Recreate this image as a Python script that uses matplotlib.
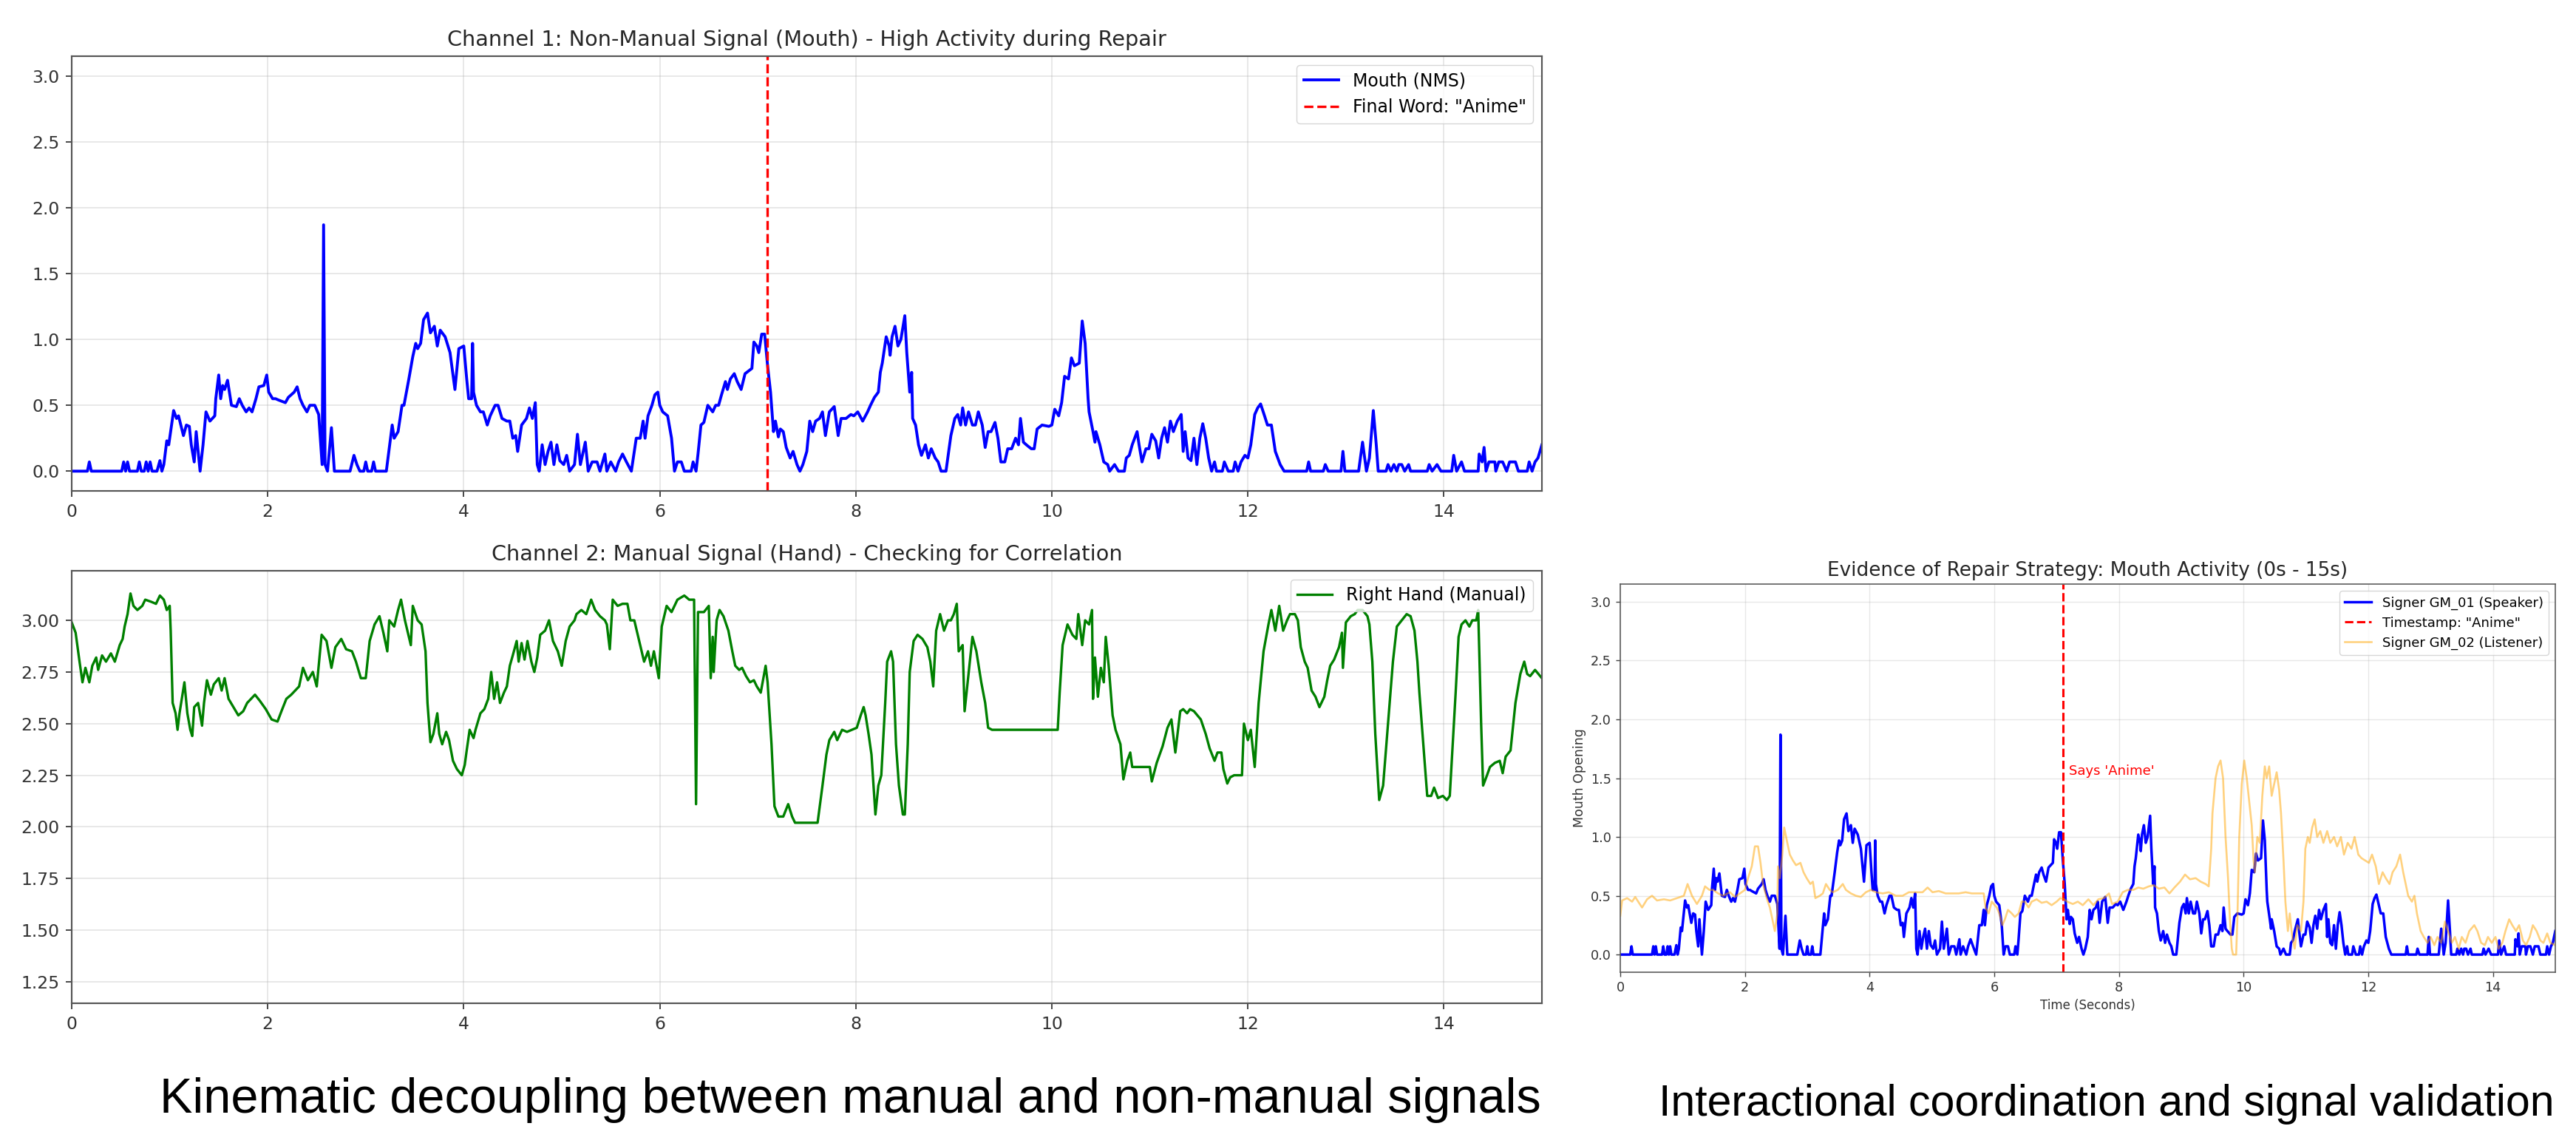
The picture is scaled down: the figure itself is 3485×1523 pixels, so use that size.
import matplotlib
matplotlib.use("Agg")
import matplotlib.pyplot as plt

# ---- values (time in seconds) ----
mouth_t = [0.0, 0.16, 0.18, 0.2, 0.51, 0.53, 0.55, 0.57, 0.59, 0.67, 0.69, 0.71, 0.74, 0.76, 0.78, 0.8, 0.82,
           0.87, 0.9, 0.92, 0.94, 0.97, 0.99, 1.04, 1.07, 1.09, 1.14, 1.17, 1.2, 1.22, 1.25, 1.27, 1.31, 1.34,
           1.37, 1.41, 1.46, 1.47, 1.5, 1.52, 1.54, 1.56, 1.59, 1.63, 1.68, 1.71, 1.74, 1.78, 1.81, 1.84, 1.88,
           1.91, 1.96, 1.99, 2.01, 2.05, 2.08, 2.11, 2.18, 2.21, 2.27, 2.3, 2.33, 2.36, 2.4, 2.43, 2.48, 2.52,
           2.555, 2.57, 2.585, 2.61, 2.65, 2.68, 2.84, 2.88, 2.91, 2.94, 2.98, 3.0, 3.02, 3.06, 3.08, 3.1, 3.21,
           3.27, 3.29, 3.33, 3.37, 3.39, 3.44, 3.48, 3.51, 3.53, 3.56, 3.59, 3.63, 3.66, 3.7, 3.73, 3.76, 3.81,
           3.86, 3.91, 3.95, 4.0, 4.03, 4.05, 4.08, 4.09, 4.1, 4.13, 4.17, 4.2, 4.24, 4.27, 4.32, 4.35, 4.39,
           4.44, 4.47, 4.5, 4.53, 4.55, 4.59, 4.64, 4.67, 4.7, 4.73, 4.75, 4.77, 4.8, 4.83, 4.86, 4.89, 4.92,
           4.95, 4.98, 5.02, 5.05, 5.08, 5.13, 5.16, 5.19, 5.24, 5.27, 5.31, 5.36, 5.39, 5.44, 5.46, 5.5, 5.55,
           5.58, 5.62, 5.66, 5.71, 5.76, 5.8, 5.83, 5.85, 5.88, 5.92, 5.95, 5.98, 6.0, 6.03, 6.08, 6.12, 6.15,
           6.18, 6.22, 6.25, 6.32, 6.34, 6.37, 6.39, 6.42, 6.45, 6.49, 6.54, 6.57, 6.6, 6.63, 6.67, 6.69, 6.72,
           6.76, 6.79, 6.83, 6.87, 6.94, 6.96, 6.99, 7.01, 7.04, 7.07, 7.1, 7.13, 7.16, 7.18, 7.21, 7.23, 7.26,
           7.29, 7.33, 7.36, 7.4, 7.43, 7.46, 7.5, 7.53, 7.56, 7.59, 7.63, 7.66, 7.69, 7.73, 7.78, 7.82, 7.85,
           7.9, 7.95, 7.98, 8.02, 8.07, 8.12, 8.15, 8.19, 8.23, 8.25, 8.27, 8.31, 8.34, 8.35, 8.37, 8.4, 8.43,
           8.46, 8.5, 8.52, 8.55, 8.57, 8.58, 8.61, 8.64, 8.67, 8.71, 8.74, 8.77, 8.81, 8.84, 8.87, 8.92, 8.97,
           9.01, 9.04, 9.07, 9.09, 9.12, 9.15, 9.19, 9.22, 9.25, 9.29, 9.32, 9.35, 9.38, 9.42, 9.45, 9.48, 9.52,
           9.55, 9.59, 9.63, 9.66, 9.68, 9.71, 9.74, 9.79, 9.82, 9.85, 9.9, 9.97, 10.0, 10.03, 10.07, 10.1,
           10.13, 10.17, 10.2, 10.23, 10.28, 10.31, 10.34, 10.37, 10.38, 10.42, 10.44, 10.45, 10.49, 10.53,
           10.57, 10.59, 10.64, 10.68, 10.74, 10.76, 10.79, 10.82, 10.87, 10.89, 10.92, 10.96, 10.99, 11.02,
           11.06, 11.09, 11.12, 11.15, 11.18, 11.21, 11.24, 11.28, 11.32, 11.34, 11.36, 11.39, 11.42, 11.45,
           11.48, 11.51, 11.54, 11.57, 11.6, 11.63, 11.66, 11.68, 11.74, 11.76, 11.8, 11.85, 11.87, 11.9,
           11.93, 11.97, 12.0, 12.03, 12.07, 12.1, 12.13, 12.17, 12.2, 12.24, 12.28, 12.33, 12.37, 12.6, 12.62,
           12.64, 12.77, 12.79, 12.82, 12.95, 12.97, 12.99, 13.13, 13.17, 13.21, 13.24, 13.28, 13.31, 13.33,
           13.41, 13.43, 13.46, 13.49, 13.52, 13.54, 13.57, 13.6, 13.64, 13.66, 13.83, 13.85, 13.88, 13.93,
           13.97, 14.08, 14.1, 14.13, 14.18, 14.21, 14.35, 14.36, 14.39, 14.41, 14.43, 14.46, 14.52, 14.53,
           14.56, 14.6, 14.64, 14.67, 14.73, 14.76, 14.85, 14.87, 14.9, 14.93, 14.96, 15.0]
mouth_v = [0.0, 0.0, 0.07, 0.0, 0.0, 0.07, 0.0, 0.07, 0.0, 0.0, 0.07, 0.0, 0.0, 0.07, 0.0, 0.07, 0.0,
           0.0, 0.08, 0.0, 0.05, 0.23, 0.2, 0.46, 0.4, 0.42, 0.27, 0.35, 0.34, 0.2, 0.07, 0.3, 0.0, 0.2,
           0.45, 0.38, 0.42, 0.55, 0.73, 0.55, 0.65, 0.62, 0.69, 0.5, 0.49, 0.55, 0.5, 0.45, 0.48, 0.45, 0.55,
           0.64, 0.65, 0.73, 0.6, 0.55, 0.55, 0.54, 0.52, 0.56, 0.6, 0.64, 0.55, 0.5, 0.45, 0.5, 0.5, 0.43,
           0.05, 1.87, 0.05, 0.0, 0.33, 0.0, 0.0, 0.12, 0.05, 0.0, 0.0, 0.07, 0.0, 0.0, 0.07, 0.0, 0.0,
           0.35, 0.25, 0.3, 0.5, 0.5, 0.7, 0.87, 0.97, 0.93, 0.97, 1.15, 1.2, 1.05, 1.1, 0.95, 1.07, 1.02,
           0.9, 0.62, 0.93, 0.95, 0.7, 0.55, 0.55, 0.97, 0.6, 0.5, 0.45, 0.45, 0.35, 0.42, 0.5, 0.5, 0.4,
           0.38, 0.38, 0.25, 0.27, 0.15, 0.35, 0.4, 0.48, 0.4, 0.52, 0.05, 0.0, 0.2, 0.05, 0.15, 0.22, 0.05,
           0.2, 0.08, 0.05, 0.12, 0.0, 0.05, 0.28, 0.05, 0.22, 0.0, 0.07, 0.07, 0.0, 0.13, 0.0, 0.07, 0.0,
           0.07, 0.13, 0.07, 0.0, 0.25, 0.25, 0.38, 0.25, 0.42, 0.5, 0.58, 0.6, 0.5, 0.45, 0.42, 0.25, 0.0,
           0.07, 0.07, 0.0, 0.0, 0.07, 0.0, 0.13, 0.35, 0.37, 0.5, 0.45, 0.5, 0.5, 0.58, 0.68, 0.62, 0.7,
           0.74, 0.68, 0.62, 0.74, 0.78, 0.98, 0.95, 0.9, 1.04, 1.04, 0.8, 0.6, 0.3, 0.38, 0.26, 0.32, 0.3,
           0.18, 0.1, 0.15, 0.05, 0.0, 0.05, 0.15, 0.38, 0.3, 0.38, 0.4, 0.45, 0.27, 0.45, 0.49, 0.27, 0.4,
           0.4, 0.43, 0.42, 0.45, 0.38, 0.45, 0.5, 0.56, 0.6, 0.75, 0.82, 1.02, 0.95, 0.88, 1.02, 1.1, 0.95,
           1.0, 1.18, 0.9, 0.6, 0.75, 0.4, 0.35, 0.2, 0.12, 0.2, 0.1, 0.17, 0.1, 0.07, 0.0, 0.0, 0.27,
           0.4, 0.43, 0.35, 0.48, 0.35, 0.45, 0.35, 0.35, 0.45, 0.35, 0.18, 0.3, 0.3, 0.37, 0.25, 0.07, 0.07,
           0.17, 0.17, 0.25, 0.2, 0.4, 0.22, 0.2, 0.17, 0.17, 0.32, 0.35, 0.34, 0.35, 0.47, 0.42, 0.52,
           0.72, 0.7, 0.86, 0.8, 0.82, 1.14, 0.97, 0.55, 0.45, 0.3, 0.22, 0.3, 0.2, 0.07,
           0.05, 0.0, 0.05, 0.0, 0.0, 0.1, 0.12, 0.2, 0.3, 0.2, 0.07, 0.17, 0.17, 0.28,
           0.23, 0.1, 0.25, 0.33, 0.22, 0.38, 0.3, 0.38, 0.43, 0.15, 0.3, 0.1, 0.08, 0.25,
           0.05, 0.25, 0.36, 0.25, 0.1, 0.0, 0.07, 0.0, 0.0, 0.07, 0.0, 0.0, 0.07, 0.0,
           0.07, 0.12, 0.1, 0.2, 0.43, 0.48, 0.51, 0.42, 0.35, 0.35, 0.15, 0.05, 0.0, 0.0, 0.07,
           0.0, 0.0, 0.05, 0.0, 0.0, 0.15, 0.0, 0.0, 0.22, 0.0, 0.1, 0.46, 0.2, 0.0,
           0.0, 0.05, 0.0, 0.05, 0.0, 0.05, 0.05, 0.0, 0.05, 0.0, 0.0, 0.05, 0.0, 0.05,
           0.0, 0.0, 0.12, 0.0, 0.07, 0.0, 0.0, 0.13, 0.07, 0.18, 0.0, 0.07, 0.07, 0.0,
           0.07, 0.07, 0.0, 0.07, 0.07, 0.0, 0.0, 0.07, 0.0, 0.07, 0.1, 0.2]

hand_t = [0.0, 0.04, 0.08, 0.11, 0.14, 0.18, 0.21, 0.25, 0.27, 0.31, 0.35, 0.4, 0.44, 0.49, 0.52, 0.54, 0.57,
          0.6, 0.63, 0.67, 0.72, 0.75, 0.81, 0.86, 0.9, 0.94, 0.97, 1.0, 1.01, 1.03, 1.06, 1.08, 1.1, 1.15,
          1.18, 1.21, 1.23, 1.25, 1.29, 1.33, 1.35, 1.38, 1.42, 1.45, 1.5, 1.53, 1.56, 1.6, 1.65, 1.7, 1.75,
          1.79, 1.87, 1.92, 1.98, 2.04, 2.1, 2.14, 2.19, 2.24, 2.28, 2.32, 2.36, 2.41, 2.46, 2.5, 2.55, 2.6,
          2.65, 2.69, 2.75, 2.8, 2.86, 2.9, 2.95, 3.0, 3.04, 3.09, 3.14, 3.18, 3.22, 3.24, 3.29, 3.33, 3.36,
          3.4, 3.44, 3.46, 3.48, 3.53, 3.57, 3.61, 3.63, 3.66, 3.69, 3.73, 3.75, 3.78, 3.82, 3.85, 3.89, 3.93,
          3.98, 4.01, 4.03, 4.06, 4.1, 4.12, 4.17, 4.21, 4.25, 4.28, 4.31, 4.34, 4.37, 4.41, 4.44, 4.47, 4.5,
          4.54, 4.56, 4.59, 4.62, 4.65, 4.69, 4.72, 4.75, 4.78, 4.83, 4.87, 4.91, 4.96, 5.0, 5.04, 5.08, 5.13,
          5.15, 5.2, 5.25, 5.3, 5.34, 5.39, 5.44, 5.46, 5.49, 5.52, 5.57, 5.62, 5.67, 5.7, 5.74, 5.79, 5.84,
          5.88, 5.91, 5.94, 5.99, 6.02, 6.07, 6.12, 6.18, 6.25, 6.3, 6.35, 6.37, 6.39, 6.45, 6.5, 6.52, 6.54,
          6.55, 6.58, 6.61, 6.65, 6.7, 6.74, 6.77, 6.81, 6.84, 6.88, 6.92, 6.96, 6.99, 7.03, 7.08, 7.1, 7.14,
          7.17, 7.21, 7.26, 7.31, 7.35, 7.38, 7.61, 7.66, 7.7, 7.73, 7.78, 7.81, 7.86, 7.91, 7.96, 8.01, 8.05,
          8.08, 8.1, 8.13, 8.16, 8.2, 8.23, 8.26, 8.3, 8.32, 8.36, 8.38, 8.41, 8.44, 8.48, 8.5, 8.53, 8.55,
          8.59, 8.63, 8.68, 8.73, 8.76, 8.79, 8.82, 8.86, 8.9, 8.94, 8.97, 9.0, 9.03, 9.05, 9.09, 9.11, 9.15,
          9.19, 9.23, 9.28, 9.32, 9.35, 9.39, 10.06, 10.08, 10.11, 10.16, 10.21, 10.25, 10.27, 10.31, 10.34,
          10.38, 10.41, 10.42, 10.44, 10.47, 10.5, 10.53, 10.55, 10.58, 10.62, 10.65, 10.7, 10.73, 10.77,
          10.8, 10.82, 11.0, 11.02, 11.07, 11.13, 11.18, 11.22, 11.26, 11.31, 11.34, 11.38, 11.41, 11.45,
          11.52, 11.57, 11.61, 11.66, 11.69, 11.73, 11.75, 11.79, 11.82, 11.86, 11.94, 11.96, 12.0, 12.03,
          12.07, 12.11, 12.16, 12.21, 12.24, 12.28, 12.32, 12.36, 12.4, 12.43, 12.48, 12.51, 12.54, 12.58,
          12.61, 12.65, 12.69, 12.73, 12.78, 12.81, 12.84, 12.88, 12.93, 12.96, 12.97, 13.0, 13.05, 13.09,
          13.12, 13.17, 13.22, 13.24, 13.27, 13.3, 13.34, 13.38, 13.43, 13.48, 13.52, 13.57, 13.62, 13.66,
          13.7, 13.73, 13.75, 13.79, 13.83, 13.87, 13.9, 13.94, 13.99, 14.03, 14.06, 14.09, 14.12, 14.15,
          14.18, 14.22, 14.26, 14.29, 14.33, 14.35, 14.38, 14.4, 14.44, 14.47, 14.52, 14.57, 14.6, 14.63,
          14.68, 14.73, 14.78, 14.82, 14.85, 14.88, 14.93, 15.0]
hand_v = [2.99, 2.94, 2.8, 2.7, 2.77, 2.7, 2.78, 2.82, 2.76, 2.83, 2.8, 2.84, 2.8, 2.88, 2.91, 2.97, 3.03,
          3.13, 3.07, 3.05, 3.07, 3.1, 3.09, 3.08, 3.12, 3.1, 3.05, 3.07, 2.95, 2.6, 2.55, 2.47, 2.55, 2.7,
          2.55, 2.47, 2.44, 2.58, 2.6, 2.49, 2.6, 2.71, 2.64, 2.69, 2.72, 2.66, 2.72, 2.62, 2.58, 2.54, 2.56,
          2.6, 2.64, 2.61, 2.57, 2.52, 2.51, 2.56, 2.62, 2.64, 2.66, 2.68, 2.77, 2.71, 2.75, 2.68, 2.93, 2.9,
          2.77, 2.87, 2.91, 2.86, 2.85, 2.8, 2.72, 2.72, 2.9, 2.98, 3.02, 2.94, 2.85, 3.0, 2.97, 3.05, 3.1,
          3.0, 2.92, 2.88, 3.07, 3.0, 2.98, 2.85, 2.6, 2.41, 2.45, 2.55, 2.45, 2.4, 2.46, 2.42, 2.32, 2.28,
          2.25, 2.3, 2.37, 2.47, 2.43, 2.47, 2.55, 2.57, 2.62, 2.75, 2.62, 2.7, 2.6, 2.65, 2.68, 2.78, 2.83,
          2.9, 2.8, 2.89, 2.81, 2.9, 2.8, 2.75, 2.82, 2.93, 2.95, 3.0, 2.9, 2.85, 2.78, 2.9, 2.97, 3.0,
          3.03, 3.05, 3.03, 3.1, 3.05, 3.02, 3.0, 2.98, 2.86, 3.1, 3.07, 3.08, 3.08, 3.0, 3.0, 2.9, 2.8,
          2.85, 2.78, 2.85, 2.72, 2.97, 3.07, 3.04, 3.1, 3.12, 3.1, 3.1, 2.11, 3.04, 3.04, 3.07, 2.72, 2.92,
          2.75, 3.0, 3.05, 3.02, 2.95, 2.85, 2.78, 2.76, 2.77, 2.73, 2.7, 2.71, 2.68, 2.65, 2.78, 2.7, 2.4,
          2.1, 2.05, 2.05, 2.11, 2.05, 2.02, 2.02, 2.2, 2.35, 2.42, 2.46, 2.42, 2.47, 2.46, 2.47, 2.48, 2.54,
          2.58, 2.54, 2.45, 2.35, 2.06, 2.2, 2.25, 2.6, 2.8, 2.85, 2.8, 2.4, 2.2, 2.06, 2.06, 2.4, 2.75,
          2.9, 2.93, 2.91, 2.87, 2.8, 2.68, 2.95, 3.03, 2.95, 3.0, 3.0, 3.03, 3.08, 2.85, 2.88, 2.56, 2.74,
          2.92, 2.85, 2.7, 2.6, 2.48, 2.47, 2.47, 2.65, 2.88, 2.98, 2.93, 2.91, 3.03, 2.88, 3.0,
          2.98, 3.05, 2.62, 2.82, 2.63, 2.77, 2.7, 2.92, 2.78, 2.54, 2.47, 2.4, 2.23, 2.32,
          2.36, 2.29, 2.29, 2.22, 2.31, 2.39, 2.48, 2.52, 2.36, 2.56, 2.57, 2.55, 2.57, 2.56,
          2.52, 2.45, 2.38, 2.32, 2.36, 2.36, 2.28, 2.21, 2.24, 2.25, 2.25, 2.5, 2.42, 2.47,
          2.29, 2.6, 2.85, 2.98, 3.05, 2.95, 3.07, 2.95, 3.0, 3.03, 3.03, 3.0, 2.87, 2.8,
          2.77, 2.66, 2.63, 2.58, 2.63, 2.71, 2.78, 2.81, 2.87, 2.94, 2.77, 2.99, 3.02, 3.03,
          3.05, 3.05, 3.02, 2.98, 2.8, 2.45, 2.13, 2.2, 2.5, 2.8, 2.97, 3.0, 3.03, 3.02,
          2.95, 2.8, 2.65, 2.4, 2.15, 2.15, 2.19, 2.14, 2.15, 2.13, 2.15, 2.4, 2.65, 2.92,
          2.98, 3.0, 2.97, 3.0, 3.0, 3.05, 2.5, 2.2, 2.25, 2.29, 2.31, 2.32, 2.26, 2.34,
          2.37, 2.6, 2.74, 2.8, 2.74, 2.73, 2.76, 2.72]

listener_t = [0.0, 0.03, 0.11, 0.19, 0.24, 0.3, 0.35, 0.43, 0.51, 0.59, 0.7, 0.8, 0.91, 1.02, 1.08, 1.15,
              1.23, 1.31, 1.36, 1.43, 1.49, 1.57, 1.65, 1.76, 1.84, 1.92, 2.0, 2.05, 2.11, 2.16, 2.21, 2.25,
              2.29, 2.35, 2.4, 2.44, 2.48, 2.52, 2.53, 2.56, 2.6, 2.63, 2.68, 2.72, 2.77, 2.82, 2.89, 2.94,
              2.99, 3.05, 3.09, 3.13, 3.2, 3.25, 3.3, 3.36, 3.41, 3.49, 3.57, 3.62, 3.7, 3.78, 3.86, 3.94,
              4.02, 4.1, 4.21, 4.31, 4.42, 4.53, 4.63, 4.74, 4.85, 4.93, 5.01, 5.11, 5.22, 5.32, 5.43, 5.54,
              5.64, 5.75, 5.83, 5.86, 5.91, 5.96, 6.04, 6.08, 6.13, 6.17, 6.22, 6.28, 6.33, 6.39, 6.44, 6.49,
              6.55, 6.6, 6.68, 6.76, 6.84, 6.92, 7.0, 7.06, 7.12, 7.17, 7.26, 7.34, 7.42, 7.51, 7.59, 7.67,
              7.76, 7.84, 7.89, 7.98, 8.06, 8.14, 8.23, 8.31, 8.39, 8.48, 8.56, 8.64, 8.73, 8.81, 8.89, 8.98,
              9.06, 9.14, 9.23, 9.31, 9.39, 9.44, 9.48, 9.5, 9.55, 9.59, 9.63, 9.67, 9.71, 9.75, 9.78, 9.81,
              9.83, 9.88, 9.9, 9.93, 9.97, 10.01, 10.05, 10.09, 10.13, 10.16, 10.18, 10.22, 10.26, 10.3, 10.34,
              10.37, 10.41, 10.45, 10.49, 10.53, 10.57, 10.6, 10.64, 10.67, 10.71, 10.74, 10.78, 10.82, 10.86,
              10.92, 10.96, 10.99, 11.03, 11.06, 11.1, 11.14, 11.18, 11.23, 11.28, 11.34, 11.39, 11.45, 11.5,
              11.56, 11.61, 11.67, 11.73, 11.78, 11.84, 11.89, 11.95, 12.01, 12.06, 12.12, 12.17, 12.23,
              12.28, 12.34, 12.39, 12.45, 12.51, 12.56, 12.6, 12.64, 12.7, 12.74, 12.78, 12.84, 12.89, 12.95,
              13.0, 13.06, 13.11, 13.17, 13.23, 13.28, 13.34, 13.39, 13.45, 13.5, 13.56, 13.62, 13.7, 13.75,
              13.81, 13.87, 13.92, 13.98, 14.04, 14.09, 14.15, 14.2, 14.26, 14.31, 14.37, 14.42, 14.48,
              14.53, 14.59, 14.64, 14.7, 14.76, 14.81, 14.87, 14.92, 15.0]
listener_v = [0.33, 0.46, 0.48, 0.45, 0.49, 0.44, 0.4, 0.47, 0.5, 0.46, 0.47, 0.46, 0.48, 0.5, 0.6, 0.5,
              0.43, 0.5, 0.58, 0.55, 0.55, 0.52, 0.5, 0.53, 0.49, 0.52, 0.55, 0.65, 0.75, 0.92, 0.92, 0.78,
              0.6, 0.48, 0.4, 0.3, 0.2, 0.35, 0.75, 0.65, 0.85, 1.08, 0.95, 0.85, 0.8, 0.76, 0.78, 0.7,
              0.65, 0.6, 0.62, 0.48, 0.5, 0.52, 0.6, 0.55, 0.53, 0.55, 0.6, 0.55, 0.52, 0.5, 0.49, 0.53,
              0.55, 0.53, 0.52, 0.53, 0.5, 0.5, 0.53, 0.53, 0.53, 0.57, 0.53, 0.54, 0.52, 0.52, 0.52, 0.53,
              0.52, 0.52, 0.52, 0.4, 0.35, 0.45, 0.4, 0.35, 0.25, 0.3, 0.38, 0.35, 0.32, 0.35, 0.45, 0.45,
              0.4, 0.45, 0.47, 0.44, 0.45, 0.42, 0.45, 0.48, 0.47, 0.45, 0.43, 0.45, 0.42, 0.47, 0.42, 0.47,
              0.48, 0.52, 0.43, 0.45, 0.53, 0.55, 0.55, 0.57, 0.56, 0.58, 0.59, 0.56, 0.57, 0.52, 0.57, 0.62,
              0.68, 0.64, 0.65, 0.62, 0.6, 0.58, 0.9, 1.2, 1.5, 1.6, 1.65, 1.5, 1.0, 0.65, 0.3, 0.05,
              0.0, 0.0, 0.3, 1.0, 1.45, 1.65, 1.5, 1.3, 1.1, 0.8, 0.7, 1.0, 0.95, 1.35, 1.6,
              1.5, 1.6, 1.35, 1.45, 1.55, 1.4, 1.2, 0.8, 0.45, 0.2, 0.35, 0.15, 0.05, 0.25,
              0.2, 0.45, 0.9, 1.0, 0.95, 1.08, 1.15, 1.0, 1.05, 0.95, 1.05, 0.95, 1.0, 0.92,
              1.0, 0.85, 0.95, 0.9, 1.0, 0.85, 0.82, 0.8, 0.78, 0.85, 0.75, 0.6, 0.7,
              0.65, 0.6, 0.7, 0.75, 0.85, 0.7, 0.6, 0.5, 0.45, 0.5, 0.35, 0.2, 0.15, 0.1,
              0.15, 0.08, 0.15, 0.1, 0.28, 0.2, 0.1, 0.15, 0.05, 0.15, 0.1, 0.2, 0.25, 0.2,
              0.1, 0.08, 0.15, 0.1, 0.15, 0.05, 0.1, 0.2, 0.3, 0.25, 0.2, 0.25, 0.12,
              0.08, 0.15, 0.25, 0.2, 0.12, 0.1, 0.18, 0.1, 0.08]

anime_time = 7.1
x_ticks = [0, 2, 4, 6, 8, 10, 12, 14]
mouth_ticks = [0.0, 0.5, 1.0, 1.5, 2.0, 2.5, 3.0]
hand_ticks = [1.25, 1.50, 1.75, 2.00, 2.25, 2.50, 2.75, 3.00]

W, H = 3485, 1523
fig = plt.figure(figsize=(W / 100, H / 100), dpi=100)


def box(x0, y0, x1, y1):
    # pixel box (top-left origin) -> figure fraction
    return [x0 / W, 1 - y1 / H, (x1 - x0) / W, (y1 - y0) / H]


def style(ax, k, fs):
    ax.set_xlim(0, 15)
    ax.set_xticks(x_ticks)
    ax.grid(True, alpha=0.3, linewidth=0.8 * k)
    ax.tick_params(labelsize=fs, length=3.5 * k, width=0.8 * k, pad=3.5 * k,
                   color='#444444', labelcolor='#333333')
    for s in ax.spines.values():
        s.set_linewidth(0.9 * k)
        s.set_color('#555555')


# left screenshot: two stacked channels
k1 = 1.72
ax1 = fig.add_axes(box(97, 76, 2086, 664))
ax1.plot(mouth_t, mouth_v, color='blue', lw=2.8, label='Mouth (NMS)')
ax1.axvline(anime_time, color='red', ls='--', lw=2.4, label='Final Word: "Anime"')
ax1.set_ylim(-0.15, 3.15)
ax1.set_yticks(mouth_ticks)
style(ax1, k1, 16.9)
ax1.set_title('Channel 1: Non-Manual Signal (Mouth) - High Activity during Repair',
              fontsize=20.7, pad=6 * k1, color='#262626')
ax1.legend(loc='upper right', fontsize=17)

ax2 = fig.add_axes(box(97, 772, 2086, 1357))
ax2.plot(hand_t, hand_v, color='green', lw=2.4, label='Right Hand (Manual)')
ax2.set_ylim(1.146, 3.24)
ax2.set_yticks(hand_ticks)
ax2.set_yticklabels([f'{v:.2f}' for v in hand_ticks])
style(ax2, k1, 16.9)
ax2.set_title('Channel 2: Manual Signal (Hand) - Checking for Correlation',
              fontsize=20.7, pad=6 * k1, color='#262626')
ax2.legend(loc='upper right', fontsize=17)

# right screenshot: speaker vs listener
k2 = 1.27
ax3 = fig.add_axes(box(2192, 790, 3457, 1315))
ax3.plot(mouth_t, mouth_v, color='blue', lw=2.5, label='Signer GM_01 (Speaker)')
ax3.axvline(anime_time, color='red', ls='--', lw=2.2, label='Timestamp: "Anime"')
ax3.text(anime_time + 0.1, 1.5, "Says 'Anime'", color='red', fontsize=13, va='bottom')
ax3.plot(listener_t, listener_v, color='orange', alpha=0.5, lw=1.9,
         label='Signer GM_02 (Listener)')
ax3.set_ylim(-0.15, 3.15)
ax3.set_yticks(mouth_ticks)
style(ax3, k2, 12.7)
ax3.set_title('Evidence of Repair Strategy: Mouth Activity (0s - 15s)',
              fontsize=18.9, pad=6 * k2, color='#262626')
ax3.set_xlabel('Time (Seconds)', fontsize=12, color='#333333')
ax3.set_ylabel('Mouth Opening', fontsize=12.5, color='#333333')
ax3.legend(loc='upper right', fontsize=13)

# captions under each screenshot
fig.text(1150 / W, 1 - 1505 / H, 'Kinematic decoupling between manual and non-manual signals',
         ha='center', va='baseline', fontsize=48, family='Liberation Sans', color='black')
fig.text(2850 / W, 1 - 1509 / H, 'Interactional coordination and signal validation',
         ha='center', va='baseline', fontsize=42.5, family='Liberation Sans', color='black')

fig.savefig('out.png', dpi=100)
